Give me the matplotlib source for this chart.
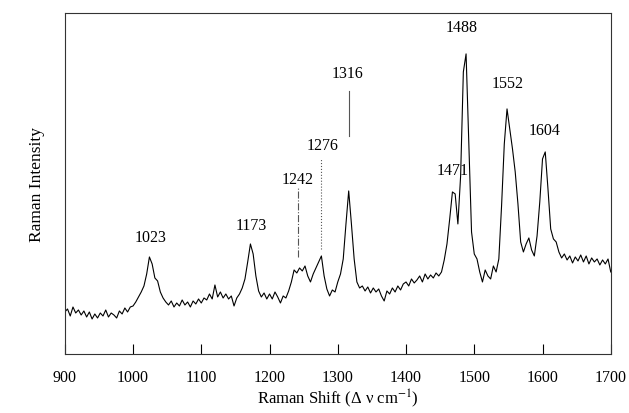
import numpy as np
import matplotlib.pyplot as plt

# raman shift grid, one reading every 4 cm-1
shift = np.arange(900, 1701, 4)

# intensity (arbitrary units), rows of 100 cm-1
intensity = [
    42, 45, 38, 47, 41, 44, 39, 43, 37, 42, 35, 40, 36, 41, 38, 44, 37, 41, 39, 36, 43, 40, 46, 42, 47,
    48, 52, 57, 62, 68, 80, 97, 90, 76, 73, 62, 56, 52, 49, 53, 47, 51, 48, 54, 49, 52, 47, 53, 50, 55,
    51, 56, 54, 60, 55, 69, 57, 62, 56, 60, 55, 58, 48, 56, 60, 66, 75, 92, 110, 100, 78, 63, 57, 61, 55,
    60, 55, 62, 57, 51, 58, 56, 63, 72, 84, 81, 86, 83, 88, 78, 72, 80, 86, 92, 98, 78, 65, 58, 64, 62,
    72, 80, 95, 130, 163, 130, 95, 72, 66, 68, 63, 67, 61, 66, 62, 65, 58, 53, 63, 60, 66, 62, 68, 64, 70,
    72, 68, 75, 71, 74, 78, 72, 80, 75, 79, 76, 81, 78, 82, 94, 110, 135, 162, 160, 130, 178, 282, 300, 210, 122,
    100, 95, 82, 72, 84, 78, 75, 88, 82, 95, 148, 210, 245, 225, 205, 182, 150, 112, 102, 110, 116, 104, 98, 118, 152,
    195, 202, 165, 125, 115, 112, 102, 96, 100, 94, 98, 91, 97, 93, 99, 92, 98, 90, 96, 92, 95, 89, 94, 90, 95,
    82,
]

# peak labels: text, label x (cm-1), label y, optional marker line (y0, y1, style)
peak_text = ['1023', '1173', '1242', '1276', '1316', '1471', '1488', '1552', '1604']
peak_x = [1025, 1173, 1241, 1278, 1315, 1469, 1481, 1549, 1603]
peak_y = [117, 129, 175, 209, 281, 184, 327, 271, 224]
marker_at = [1242, 1276, 1316]
marker_span = [(97, 166), (105, 195), (218, 263)]
marker_style = ['-.', ':', '-']

plt.rcParams['font.family'] = ['Liberation Serif', 'DejaVu Serif']
plt.rcParams['mathtext.fontset'] = 'stix'

fig = plt.figure(figsize=(6.29, 4.14), dpi=100)
ax = fig.add_axes([0.103, 0.1425, 0.868, 0.824])

ax.plot(shift, intensity, color='black', lw=0.8)

for t, x, y in zip(peak_text, peak_x, peak_y):
    ax.text(x, y, t, ha='center', va='center', fontsize=11.5)
for x, (y0, y1), ls in zip(marker_at, marker_span, marker_style):
    ax.plot([x, x], [y0, y1], color='#555555', lw=0.8, ls=ls)

ax.set_xlim(900, 1700)
ax.set_ylim(0, 341)
ax.set_xticks(range(900, 1701, 100))
ax.set_yticks([])
ax.tick_params(axis='x', direction='in', length=7, width=0.8, pad=11, labelsize=11.5)
for s in ax.spines.values():
    s.set_linewidth(0.8)
    s.set_color('#333333')

ax.set_xlabel('Raman Shift (Δ ν cm$^{-1}$)', fontsize=12, labelpad=1)
ax.set_ylabel('Raman Intensity', fontsize=12.5, labelpad=14)

fig.savefig('out.png', dpi=100)
